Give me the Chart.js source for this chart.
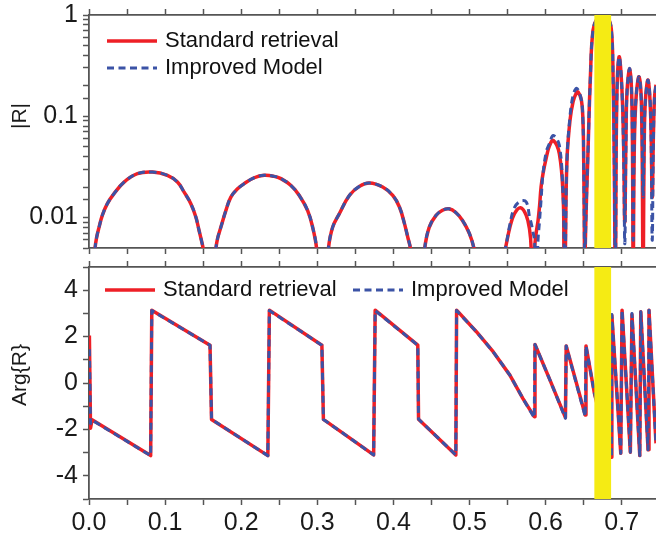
<!DOCTYPE html>
<html>
<head>
<meta charset="utf-8">
<script src="https://cdn.jsdelivr.net/npm/chart.js@4.4.1/dist/chart.umd.min.js"></script>
<style>
    body { margin: 0; background: #fff; }
    #quadro { position: relative; width: 656px; height: 537px; }
    canvas { position: absolute; left: 0; }
    #chartMag { top: 0; }
    #chartArg { top: 256px; }
</style>
</head>
<body>
<div id="quadro">
    <canvas id="chartMag" width="656" height="256"></canvas>
    <canvas id="chartArg" width="656" height="281"></canvas>
</div>
<script>
// nomes das series e titulos
const nomesSeries = ['Standard retrieval', 'Improved Model'];
const titulosEixo = ['|R|', 'Arg{R}'];

// rotulos dos eixos
const xTicks = [0.0, 0.1, 0.2, 0.3, 0.4, 0.5, 0.6, 0.7];
const magTicks = [0.01, 0.1, 1];
const argTicks = [-4, -2, 0, 2, 4];
const xMax = 0.745;

// faixa amarela (em unidades do eixo x)
const faixa = [0.664, 0.686];

// |R| (valores abaixo de 0.005 ficam fora da area)
const magX = [
    0.003, 0.0079, 0.0101, 0.0132, 0.0175, 0.0241, 0.0329, 0.0461, 0.0636, 0.0833,
    0.1030, 0.1162, 0.125, 0.1338, 0.1404, 0.1447, 0.1478, 0.150, 0.158,
    0.1667, 0.1689, 0.1732, 0.1798, 0.1864, 0.1952, 0.2039, 0.2171, 0.2303,
    0.2434, 0.2522, 0.2654, 0.2763, 0.2873, 0.2939, 0.2991, 0.306,
    0.3145, 0.3201, 0.3289, 0.3421, 0.3553, 0.3684, 0.3859, 0.3991, 0.4079, 0.4145, 0.4188, 0.4224, 0.432,
    0.441, 0.447, 0.456, 0.4645, 0.473, 0.482, 0.491, 0.500, 0.506, 0.526,
    0.547, 0.553, 0.559, 0.567, 0.5745, 0.579, 0.581, 0.583, 0.5855, 0.5875, 0.590,
    0.592, 0.594, 0.5965, 0.601, 0.605, 0.610, 0.618, 0.623, 0.624, 0.625,
    0.626, 0.628, 0.632, 0.636, 0.640, 0.6425, 0.647, 0.649, 0.650, 0.651, 0.6515,
    0.652, 0.6557, 0.6588, 0.6623, 0.668, 0.675, 0.682, 0.6864, 0.6886, 0.690, 0.691, 0.6915,
    0.692, 0.6935, 0.6965, 0.700, 0.7025, 0.704,
    0.7055, 0.707, 0.7105, 0.7135, 0.715,
    0.7165, 0.719, 0.7228, 0.726, 0.728,
    0.7295, 0.731, 0.7346, 0.738, 0.740,
    0.7415, 0.743, 0.745
];
const magStd = [
    0.001, 0.0049, 0.0064, 0.0080, 0.0105, 0.0137, 0.0172, 0.0224, 0.0271, 0.0281,
    0.0261, 0.0224, 0.0178, 0.0137, 0.0101, 0.0074, 0.0059, 0.0049, 0.001,
    0.0049, 0.0062, 0.0080, 0.0117, 0.0159, 0.0192, 0.0216, 0.0247, 0.0261,
    0.0255, 0.0242, 0.0207, 0.0165, 0.0117, 0.0080, 0.0049, 0.001,
    0.0049, 0.0080, 0.0109, 0.0165, 0.0203, 0.0219, 0.0200, 0.0165, 0.0127, 0.0087, 0.0064, 0.0049, 0.001,
    0.0049, 0.008, 0.0105, 0.0118, 0.0122, 0.0112, 0.0093, 0.0069, 0.0049, 0.001,
    0.0049, 0.008, 0.0109, 0.0125, 0.0105, 0.0075, 0.0049, 0.001, 0.0049, 0.007, 0.0093,
    0.013, 0.020, 0.027, 0.0395, 0.051, 0.0578, 0.0426, 0.0159, 0.0049, 0.001,
    0.0049, 0.0367, 0.091, 0.139, 0.168, 0.174, 0.144, 0.091, 0.0367, 0.0049, 0.001,
    0.0049, 0.046, 0.245, 0.71, 0.93, 0.98, 0.93, 0.71, 0.245, 0.046, 0.0049, 0.001,
    0.0049, 0.144, 0.386, 0.20, 0.05, 0.009,
    0.06, 0.18, 0.29, 0.12, 0.003,
    0.05, 0.16, 0.245, 0.12, 0.003,
    0.05, 0.14, 0.227, 0.10, 0.016,
    0.06, 0.15, 0.205
];
const magImp = [
    0.001, 0.0049, 0.0064, 0.0080, 0.0105, 0.0137, 0.0172, 0.0224, 0.0271, 0.0281,
    0.0261, 0.0224, 0.0178, 0.0137, 0.0101, 0.0074, 0.0059, 0.0049, 0.001,
    0.0049, 0.0062, 0.0080, 0.0117, 0.0159, 0.0192, 0.0216, 0.0247, 0.0261,
    0.0255, 0.0242, 0.0207, 0.0165, 0.0117, 0.0080, 0.0049, 0.001,
    0.0049, 0.0080, 0.0109, 0.0165, 0.0203, 0.0219, 0.0200, 0.0165, 0.0127, 0.0087, 0.0064, 0.0049, 0.001,
    0.0049, 0.008, 0.0105, 0.0118, 0.0122, 0.0112, 0.0093, 0.0069, 0.0049, 0.001,
    0.0049, 0.0085, 0.0125, 0.0145, 0.0142, 0.0100, 0.0088, 0.0074, 0.0058, 0.002, 0.006,
    0.0093, 0.015, 0.027, 0.045, 0.0537, 0.0645, 0.0516, 0.0159, 0.008, 0.002,
    0.0049, 0.0367, 0.10, 0.16, 0.188, 0.182, 0.144, 0.091, 0.0367, 0.0049, 0.001,
    0.0049, 0.046, 0.245, 0.71, 0.93, 0.98, 0.93, 0.71, 0.245, 0.046, 0.0049, 0.001,
    0.0049, 0.144, 0.386, 0.20, 0.04, 0.0055,
    0.05, 0.18, 0.295, 0.12, 0.006,
    0.06, 0.16, 0.245, 0.12, 0.016,
    0.06, 0.14, 0.227, 0.10, 0.006,
    0.05, 0.15, 0.205
];

// Arg{R}
const argX = [
    0.0005, 0.002, 0.004, 0.081, 0.0825, 0.159, 0.161, 0.235, 0.237, 0.306, 0.308,
    0.374, 0.376, 0.432, 0.433, 0.482, 0.483, 0.509, 0.531, 0.553, 0.570, 0.585,
    0.586, 0.606, 0.626, 0.627, 0.652, 0.653, 0.664, 0.675, 0.6865,
    0.687, 0.6987, 0.7004, 0.7113, 0.7134, 0.7237, 0.725, 0.7346, 0.7358, 0.745
];
const argStd = [
    2.05, -1.95, -1.58, -3.13, 3.14, 1.63, -1.57, -3.13, 3.14, 1.63, -1.57,
    -3.10, 3.14, 1.63, -1.56, -3.10, 3.14, 2.21, 1.35, 0.34, -0.66, -1.45,
    1.66, 0.10, -1.49, 1.60, -1.38, 1.60, -0.43, -1.90, -3.20,
    2.92, -3.03, 3.14, -2.98, 2.95, -3.13, 3.07, -2.88, 3.14, -2.60
];
const argImp = [
    1.45, -1.75, -1.60, -3.13, 3.12, 1.63, -1.57, -3.13, 3.12, 1.63, -1.57,
    -3.10, 3.12, 1.63, -1.56, -3.10, 3.12, 2.21, 1.35, 0.34, -0.66, -1.50,
    1.66, 0.10, -1.52, 1.60, -1.45, 1.60, -0.43, -1.90, -3.20,
    2.95, -3.03, 3.14, -2.98, 3.00, -3.13, 3.07, -2.88, 3.14, -2.60
];

Chart.defaults.font.family = "'Liberation Sans', Arial, Helvetica, sans-serif";
Chart.defaults.color = '#1a1a1a';

const corEixo = '#555555';
const vermelho = '#ee1f26';
const azul = '#3b53a6';
const amarelo = '#f5eb14';

function pontos(xs, ys) {
    return xs.map(function (x, i) { return { x: x, y: ys[i] }; });
}

function acharTick(lista, v) {
    return lista.find(function (t) { return Math.abs(t - v) <= 1e-6 * Math.max(1, Math.abs(t)); });
}

function series(xs, std, imp, tensao) {
    const base = { pointRadius: 0, borderJoinStyle: 'round', clip: 0, tension: tensao };
    return [
        Object.assign({ label: nomesSeries[0], data: pontos(xs, std), borderColor: vermelho, borderWidth: 3.5, order: 1 }, base),
        Object.assign({ label: nomesSeries[1], data: pontos(xs, imp), borderColor: azul, borderWidth: 3, borderDash: [7, 4.5], order: 0 }, base)
    ];
}

function eixoX(posicao, altura, comRotulos) {
    return {
        type: 'linear',
        position: posicao,
        min: 0,
        max: xMax,
        border: { color: corEixo, width: 1.8 },
        grid: { drawOnChartArea: false, tickLength: 6, tickWidth: 1.5, tickColor: corEixo },
        ticks: {
            stepSize: 0.05, includeBounds: false, autoSkip: false, maxRotation: 0, padding: 3,
            font: { size: 25 },
            callback: function (v) {
                const t = acharTick(xTicks, v);
                return comRotulos && t !== undefined ? t.toFixed(1) : '';
            }
        },
        afterBuildTicks: function (s) { s.ticks = s.ticks.filter(function (t) { return t.value < xMax - 0.002; }); },
        afterFit: function (s) { s.height = altura; s.paddingLeft = 0; s.paddingRight = 0; }
    };
}

function eixoY(extra) {
    return Object.assign({
        position: 'left',
        border: { color: corEixo, width: 1.8 },
        grid: { drawOnChartArea: false, tickLength: 6, tickWidth: 1.5, tickColor: corEixo },
        afterFit: function (s) { s.width = 89; s.paddingTop = 0; s.paddingBottom = 0; }
    }, extra);
}

// faixa amarela por cima das curvas
const faixaPlugin = {
    id: 'faixa',
    afterDatasetsDraw(chart) {
        const area = chart.chartArea;
        const x0 = chart.scales.x.getPixelForValue(faixa[0]);
        const x1 = chart.scales.x.getPixelForValue(faixa[1]);
        chart.ctx.save();
        chart.ctx.fillStyle = amarelo;
        chart.ctx.fillRect(x0, area.top, x1 - x0, area.bottom - area.top);
        chart.ctx.restore();
    }
};

// legenda dentro da area do grafico
const legendaPlugin = {
    id: 'legenda',
    afterDraw(chart, args, opts) {
        const ctx = chart.ctx;
        ctx.save();
        chart.data.datasets.forEach(function (ds, i) {
            const p = opts.itens[i];
            ctx.strokeStyle = ds.borderColor;
            ctx.lineWidth = ds.borderWidth;
            ctx.setLineDash(ds.borderDash || []);
            ctx.beginPath();
            ctx.moveTo(p.x, p.y);
            ctx.lineTo(p.x + opts.comprimento, p.y);
            ctx.stroke();
            ctx.setLineDash([]);
            ctx.fillStyle = '#111';
            ctx.font = "22px 'Liberation Sans', Arial, sans-serif";
            ctx.textBaseline = 'middle';
            ctx.fillText(ds.label, p.x + opts.comprimento + opts.espaco, p.y);
        });
        ctx.restore();
    }
};

// titulo do eixo y (girado)
const tituloPlugin = {
    id: 'tituloEixo',
    afterDraw(chart, args, opts) {
        const ctx = chart.ctx;
        ctx.save();
        ctx.translate(opts.x, opts.y);
        ctx.rotate(-Math.PI / 2);
        ctx.font = "21px 'Liberation Sans', Arial, sans-serif";
        ctx.fillStyle = '#1a1a1a';
        ctx.textAlign = 'center';
        ctx.textBaseline = 'middle';
        ctx.fillText(opts.texto, 0, 0);
        ctx.restore();
    }
};

new Chart(document.getElementById('chartMag'), {
    type: 'line',
    data: { datasets: series(magX, magStd, magImp, 0.4) },
    options: {
        responsive: false,
        animation: false,
        events: [],
        layout: { padding: 0 },
        plugins: {
            legend: { display: false },
            tooltip: { enabled: false },
            legenda: { itens: [{ x: 107, y: 41 }, { x: 107, y: 68 }], comprimento: 50, espaco: 8 },
            tituloEixo: { texto: titulosEixo[0], x: 20, y: 116 }
        },
        scales: {
            x: eixoX('bottom', 8, false),
            xTopo: eixoX('top', 15, false),
            y: eixoY({
                type: 'logarithmic',
                min: 0.005,
                max: 1,
                ticks: {
                    autoSkip: false, padding: 5, font: { size: 25 },
                    callback: function (v) {
                        const t = acharTick(magTicks, v);
                        return t === undefined ? '' : String(t);
                    }
                }
            })
        }
    },
    plugins: [faixaPlugin, legendaPlugin, tituloPlugin]
});

new Chart(document.getElementById('chartArg'), {
    type: 'line',
    data: { datasets: series(argX, argStd, argImp, 0) },
    options: {
        responsive: false,
        animation: false,
        events: [],
        layout: { padding: 0 },
        plugins: {
            legend: { display: false },
            tooltip: { enabled: false },
            legenda: { itens: [{ x: 105, y: 34 }, { x: 353, y: 34 }], comprimento: 50, espaco: 8 },
            tituloEixo: { texto: titulosEixo[1], x: 20, y: 119 }
        },
        scales: {
            x: eixoX('bottom', 38, true),
            xTopo: eixoX('top', 11, false),
            y: eixoY({
                type: 'linear',
                min: -5,
                max: 5,
                ticks: {
                    stepSize: 1, autoSkip: false, padding: 5, font: { size: 25 },
                    callback: function (v) {
                        const t = acharTick(argTicks, v);
                        return t === undefined ? '' : String(t);
                    }
                }
            })
        }
    },
    plugins: [faixaPlugin, legendaPlugin, tituloPlugin]
});
</script>
</body>
</html>
